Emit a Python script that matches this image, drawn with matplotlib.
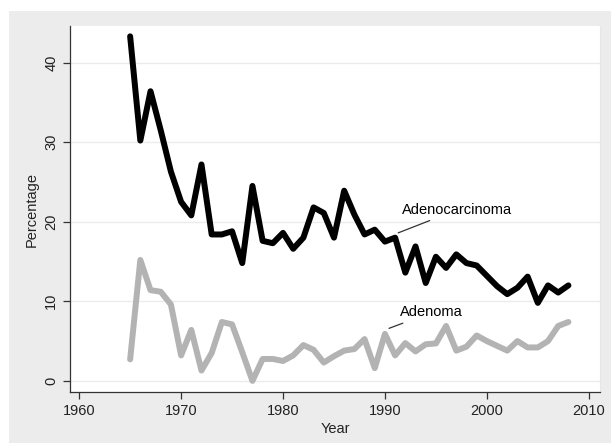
import matplotlib.pyplot as plt
from matplotlib.patches import Rectangle

# data (percent by year)
years = list(range(1965, 2009))
adenocarcinoma = [43.3, 30.2, 36.4, 31.5, 26.3, 22.5, 20.8, 27.2, 18.4, 18.4,
                  18.8, 14.8, 24.5, 17.6, 17.3, 18.6, 16.6, 18.0, 21.8, 21.1,
                  18.0, 23.9, 20.9, 18.4, 19.0, 17.5, 18.0, 13.6, 16.9, 12.3,
                  15.6, 14.2, 15.9, 14.8, 14.5, 13.2, 11.9, 10.9, 11.7, 13.1,
                  9.8, 12.0, 11.1, 12.0]
adenoma = [2.7, 15.2, 11.4, 11.2, 9.6, 3.2, 6.4, 1.3, 3.5, 7.4,
           7.1, 3.6, 0.0, 2.75, 2.75, 2.5, 3.2, 4.5, 3.9, 2.3,
           3.1, 3.8, 4.0, 5.25, 1.6, 5.9, 3.2, 4.75, 3.7, 4.6,
           4.7, 6.9, 3.8, 4.3, 5.7, 5.0, 4.4, 3.8, 5.0, 4.2,
           4.2, 5.0, 6.9, 7.4]
xticks = [1960, 1970, 1980, 1990, 2000, 2010]
yticks = [0, 10, 20, 30, 40]

plt.rcParams['font.family'] = ['Liberation Sans', 'DejaVu Sans']

fig = plt.figure(figsize=(6.11, 4.43), dpi=100, facecolor='white')
# stata-like grey outer region
fig.patches.append(Rectangle((9 / 611, 0), 1, 1 - 11 / 443, transform=fig.transFigure,
                             facecolor='#ececec', edgecolor='none', zorder=-10))
ax = fig.add_axes([70 / 611, 1 - 392 / 443, 530 / 611, 366 / 443])
ax.set_zorder(5)
ax.set_facecolor('white')

ax.plot(years, adenocarcinoma, color='black', linewidth=4.3, solid_joinstyle='round',
        solid_capstyle='round', zorder=3)
ax.plot(years, adenoma, color='#b3b3b3', linewidth=4.3, solid_joinstyle='round',
        solid_capstyle='round', zorder=3)

# series labels with short leader lines
ax.annotate('Adenocarcinoma', xy=(1991.3, 18.6), xytext=(1991.7, 21.5),
            fontsize=10.5, va='center', ha='left',
            arrowprops=dict(arrowstyle='-', color='#333333', lw=0.9, shrinkA=2, shrinkB=0))
ax.annotate('Adenoma', xy=(1990.4, 6.6), xytext=(1991.5, 8.6),
            fontsize=10.5, va='center', ha='left',
            arrowprops=dict(arrowstyle='-', color='#333333', lw=0.9, shrinkA=2, shrinkB=0))

ax.set_xlim(1959.1, 2011.1)
ax.set_ylim(-1.4, 44.6)
ax.set_xticks(xticks)
ax.set_yticks(yticks)
ax.tick_params(axis='both', direction='out', length=5, width=0.9, color='#333333',
               labelsize=10.5, labelcolor='#222222')
for lab in ax.get_yticklabels():
    lab.set_rotation(90)
    lab.set_va('center')
ax.grid(axis='y', color='#ebebeb', linewidth=1.0)
ax.set_axisbelow(True)

ax.spines['top'].set_visible(False)
ax.spines['right'].set_color('#e6e6e6')
ax.spines['left'].set_color('#333333')
ax.spines['bottom'].set_color('#333333')
ax.spines['left'].set_linewidth(0.9)
ax.spines['bottom'].set_linewidth(0.9)

ax.set_xlabel('Year', fontsize=10.5, color='#222222', labelpad=3)
ax.set_ylabel('Percentage', fontsize=10.5, color='#222222', labelpad=4)

fig.savefig('out.png', dpi=100, facecolor='white')
